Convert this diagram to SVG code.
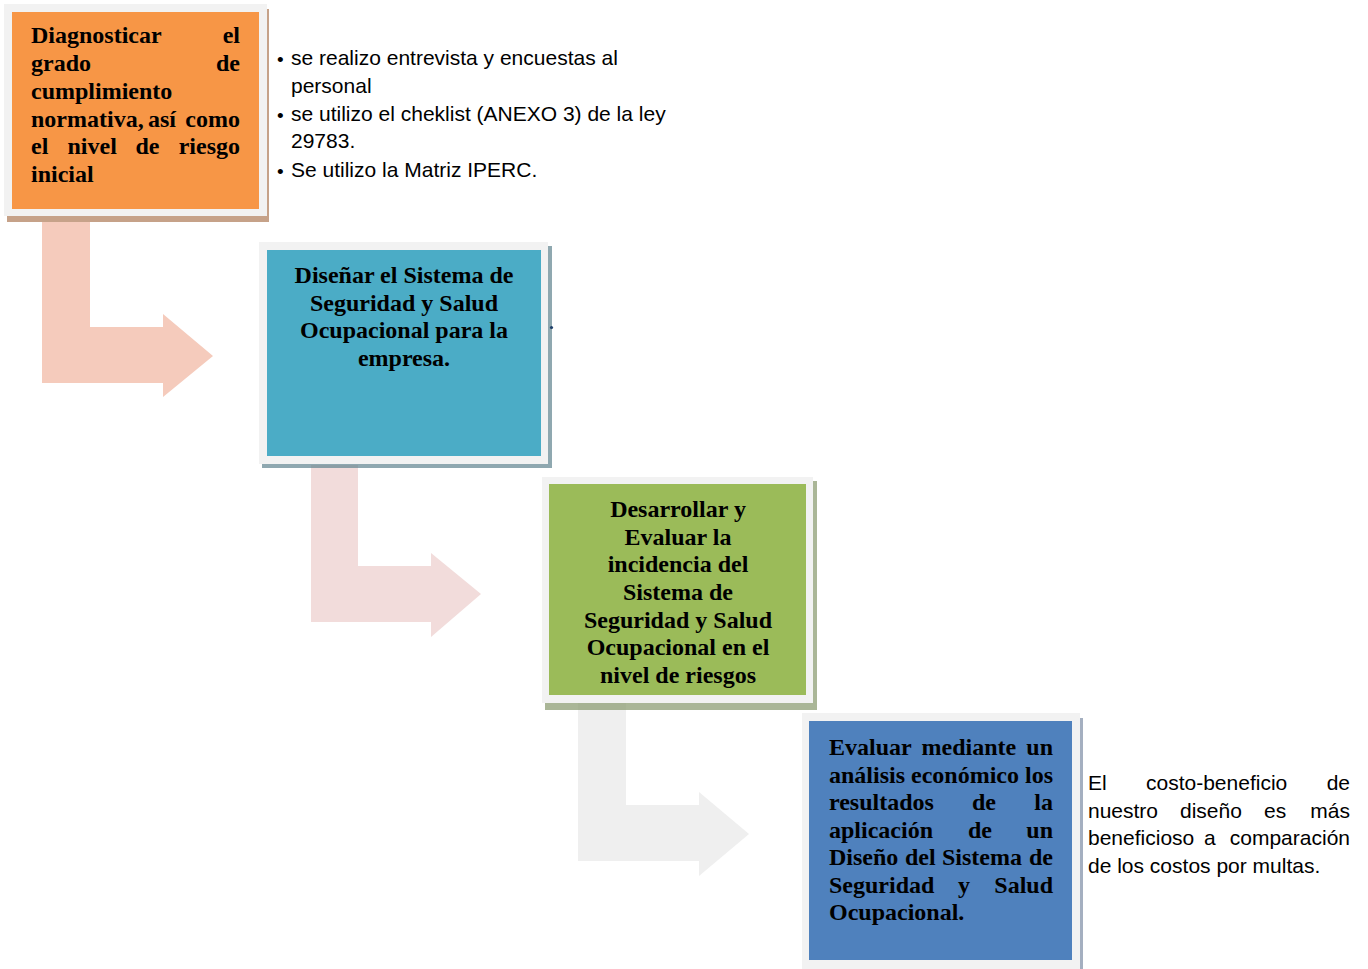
<svg xmlns="http://www.w3.org/2000/svg" width="1368" height="969" viewBox="0 0 1368 969">
<style>
.frame{fill:#f2f2f2}
.bt{font-family:"Liberation Serif","Times New Roman",serif;font-weight:bold;font-size:24px;fill:#000}
.c{text-anchor:middle}
.e{text-anchor:end}
.st{font-family:"Liberation Sans",Arial,sans-serif;font-size:21px;fill:#000}
.bul{font-family:"Liberation Sans",Arial,sans-serif;font-size:19px;fill:#000}
</style>
<rect width="1368" height="969" fill="#fff"/>
<g id="connectors">
<path d="M42,222 H90 V327 H163 V314 L213,356 L163,397 V383 H42 Z" fill="#f5cbbc"/>
<path d="M311,465 H358 V566 H431 V553 L481,594 L431,637 V622 H311 Z" fill="#f2dcdb"/>
<path d="M578,703 H626 V805 H699 V792 L749,834 L699,876 V861 H578 Z" fill="#efefef"/>
</g>
<g id="node1">
<rect x="7" y="9" width="262" height="213" fill="#b88b6c" opacity="0.8"/>
<rect class="frame" x="4" y="4" width="263" height="212"/>
<rect x="12" y="12" width="247" height="197" fill="#f79646"/>
<text class="bt" x="31" y="43">Diagnosticar</text><text class="bt e" x="240" y="43">el</text>
<text class="bt" x="31" y="71">grado</text><text class="bt e" x="240" y="71">de</text>
<text class="bt" x="31" y="98.5">cumplimiento</text>
<text class="bt" x="31" y="126.5">normativa,</text><text class="bt" x="148" y="126.5">así</text><text class="bt e" x="240" y="126.5">como</text>
<text class="bt" x="31" y="154">el</text><text class="bt" x="67.5" y="154">nivel</text><text class="bt" x="135.5" y="154">de</text><text class="bt e" x="240" y="154">riesgo</text>
<text class="bt" x="31" y="181.5">inicial</text>
</g>
<g id="notes1">
<text class="bul" x="277" y="66">•</text>
<text class="st" x="291" y="65">se realizo entrevista y encuestas al</text>
<text class="st" x="291" y="92.5">personal</text>
<text class="bul" x="277" y="122">•</text>
<text class="st" x="291" y="121">se utilizo el cheklist (ANEXO 3) de la ley</text>
<text class="st" x="291" y="147.5">29783.</text>
<text class="bul" x="277" y="178">•</text>
<text class="st" x="291" y="177">Se utilizo la Matriz IPERC.</text>
</g>
<g id="node2">
<rect x="262" y="246" width="290" height="222" fill="#5f838e" opacity="0.7"/>
<rect class="frame" x="259" y="242" width="289" height="222"/>
<rect x="267" y="250" width="274" height="206" fill="#4bacc6"/>
<text class="bt c" x="404" y="283">Diseñar el Sistema de</text>
<text class="bt c" x="404" y="310.5">Seguridad y Salud</text>
<text class="bt c" x="404" y="338">Ocupacional para la</text>
<text class="bt c" x="404" y="365.5">empresa.</text>
<circle cx="551.5" cy="327.5" r="1.6" fill="#1f3f6a"/>
</g>
<g id="node3">
<rect x="545" y="481" width="272" height="229" fill="#8e9d74" opacity="0.75"/>
<rect class="frame" x="542" y="477" width="271" height="226"/>
<rect x="549" y="484" width="257" height="211" fill="#9bbb59"/>
<text class="bt c" x="678" y="517">Desarrollar y</text>
<text class="bt c" x="678" y="544.5">Evaluar la</text>
<text class="bt c" x="678" y="572">incidencia del</text>
<text class="bt c" x="678" y="600">Sistema de</text>
<text class="bt c" x="678" y="627.5">Seguridad y Salud</text>
<text class="bt c" x="678" y="655">Ocupacional en el</text>
<text class="bt c" x="678" y="683">nivel de riesgos</text>
</g>
<g id="node4">
<rect x="805" y="718" width="278" height="255" fill="#8d9bb0" opacity="0.8"/>
<rect class="frame" x="802" y="713" width="278" height="260"/>
<rect x="809" y="721" width="263" height="239" fill="#4f81bd"/>
<text class="bt" x="829" y="755">Evaluar</text><text class="bt" x="921.5" y="755">mediante</text><text class="bt e" x="1053" y="755">un</text>
<text class="bt" x="829" y="782.5">análisis</text><text class="bt" x="911" y="782.5">económico</text><text class="bt e" x="1053" y="782.5">los</text>
<text class="bt" x="829" y="810">resultados</text><text class="bt" x="972" y="810">de</text><text class="bt e" x="1053" y="810">la</text>
<text class="bt" x="829" y="837.5">aplicación</text><text class="bt" x="968" y="837.5">de</text><text class="bt e" x="1053" y="837.5">un</text>
<text class="bt" x="829" y="865">Diseño</text><text class="bt" x="905" y="865">del</text><text class="bt" x="942" y="865">Sistema</text><text class="bt e" x="1053" y="865">de</text>
<text class="bt" x="829" y="892.5">Seguridad</text><text class="bt" x="958" y="892.5">y</text><text class="bt e" x="1053" y="892.5">Salud</text>
<text class="bt" x="829" y="920">Ocupacional.</text>
</g>
<g id="notes4">
<text class="st" x="1088" y="790">El</text><text class="st" x="1146" y="790">costo-beneficio</text><text class="st e" x="1350" y="790">de</text>
<text class="st" x="1088" y="817.5">nuestro</text><text class="st" x="1180" y="817.5">diseño</text><text class="st" x="1264" y="817.5">es</text><text class="st e" x="1350" y="817.5">más</text>
<text class="st" x="1088" y="845">beneficioso</text><text class="st" x="1204" y="845">a</text><text class="st e" x="1350" y="845">comparación</text>
<text class="st" x="1088" y="872.5">de los costos por multas.</text>
</g>
</svg>
